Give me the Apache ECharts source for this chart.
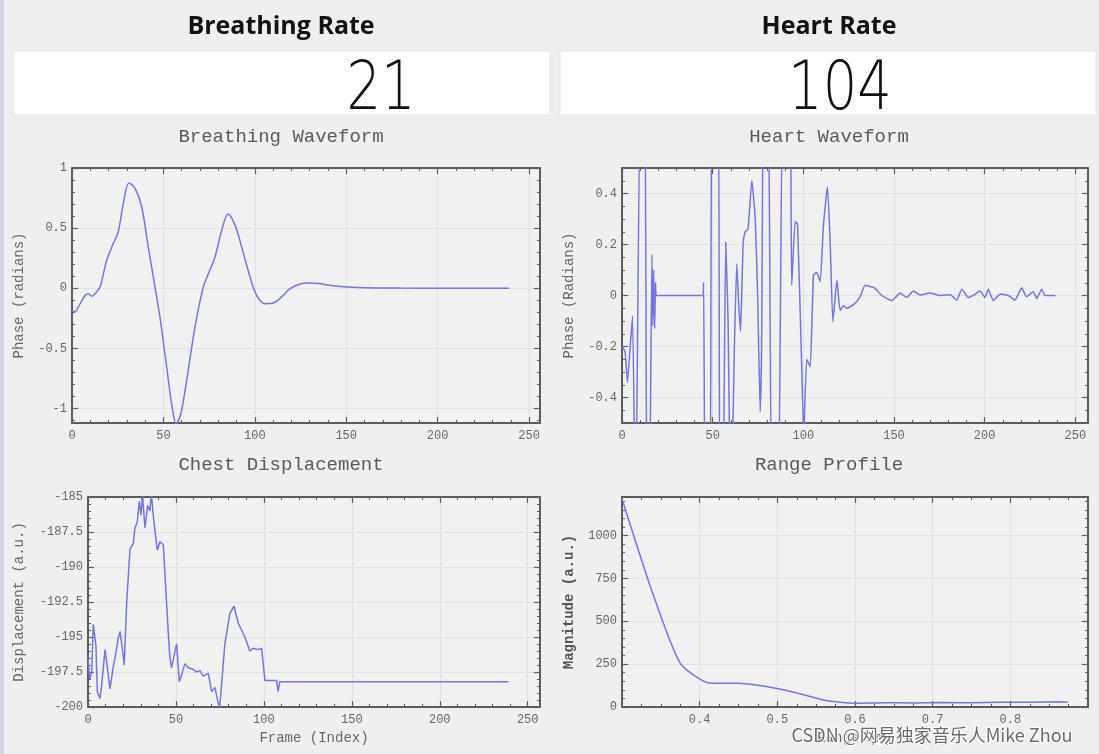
<!DOCTYPE html>
<html><head><meta charset="utf-8">
<script src="https://cdn.jsdelivr.net/npm/echarts@6/dist/echarts.min.js"></script>
<style>html,body{margin:0;padding:0;background:#efefef;overflow:hidden}#c{width:1099px;height:754px}</style>
</head><body><div id="c"></div>
<script>
// ---------------- data ----------------
const breathingRate = '21';
const heartRate = '104';

const breathFrames = [0, 1.6, 3.5, 7.1, 8.9, 10.8, 12.6, 15.3, 19, 22.6, 25.3, 28.1, 31.2, 34.5, 38.1, 41.7, 45.4, 48.1, 51.8, 54.5, 57, 59.5, 62.7, 67.3, 71.8, 74.6, 78.2, 81.9, 85.4, 89.2, 92.8, 97.4, 101, 105.6, 110, 114.7, 119.3, 125.7, 129.5, 135, 140.8, 148.7, 160, 180, 200, 220, 239];
const breathPhase  = [-0.18, -0.197, -0.155, -0.06, -0.045, -0.066, -0.045, 0.01, 0.233, 0.372, 0.47, 0.706, 0.875, 0.83, 0.678, 0.344, 0.01, -0.24, -0.656, -0.96, -1.125, -1.045, -0.767, -0.32, 0.01, 0.12, 0.26, 0.48, 0.617, 0.525, 0.344, 0.094, -0.058, -0.128, -0.122, -0.072, -0.003, 0.039, 0.044, 0.04, 0.025, 0.012, 0.005, 0.002, 0.001, 0.001, 0];

const heartFrames = [0, 1.7, 3.0, 4.5, 5.8, 7.5, 10.3, 12.5, 13.8, 15.0, 16.5, 17.0, 17.5, 18.0, 18.5, 19.0, 44.3, 45.0, 46.0, 48.5, 49.7, 53.0, 54.0, 55.5, 57.2, 58.5, 60.0, 62.0, 63.3, 64.5, 65.4, 66.8, 67.9, 69.5, 71.6, 73.5, 74.8, 76.2, 77.0, 78.2, 80.5, 82.8, 86.0, 88.9, 92.5, 93.6, 95.5, 96.8, 99.0, 100.2, 101.9, 103.8, 105.6, 107.4, 109.3, 111.1, 113.3, 114.8, 116.3, 118.5, 120.3, 122.2, 124.0, 127.7, 131.3, 134.0, 136.7, 139.3, 143.3, 148.8, 153.4, 157, 160.7, 164.4, 170, 175.5, 181, 184.6, 187.4, 191, 194.7, 197.4, 200.2, 202, 204.8, 208.5, 213, 216.7, 220.4, 223.1, 226.8, 228.7, 231.5, 233.3, 239];
const heartPhase  = [-0.2, -0.22, -0.34, -0.2, -0.08, -0.9, 0.9, 0.9, -0.9, -0.9, 0.16, -0.12, 0.1, -0.13, 0.05, 0, 0, 0.05, -0.9, -0.9, 0.9, 0.9, -0.9, -0.9, 0.21, -0.1, -0.9, -0.2, 0.125, -0.05, -0.14, 0.2, 0.25, 0.26, 0.45, 0.3, 0.0, -0.455, -0.2, 0.9, 0.9, -0.9, -0.9, 0.9, 0.9, 0.04, 0.29, 0.28, -0.25, -0.55, -0.25, -0.28, 0.08, 0.09, 0.054, 0.276, 0.426, 0.21, -0.103, 0.06, -0.058, -0.04, -0.05, -0.036, -0.005, 0.04, 0.035, 0.03, 0.0, -0.02, 0.01, -0.008, 0.018, 0.002, 0.01, 0, 0.003, -0.018, 0.025, -0.008, 0.005, 0.018, -0.008, 0.025, -0.02, 0.005, 0, -0.018, 0.03, -0.005, 0.015, -0.012, 0.025, 0, 0];

const chestFrames = [0, 1, 2.1, 3, 4.5, 5.3, 6.8, 7.8, 9.7, 10.6, 12.5, 14.4, 15.5, 17.2, 18.2, 19.7, 20.6, 22, 23.9, 25.8, 26.7, 28, 29.2, 30.1, 31, 32.4, 33.9, 35.2, 36, 37.5, 39.4, 40.9, 42.8, 45.6, 46.5, 47.5, 49, 50.4, 51.9, 53.5, 55.1, 57, 59.8, 61.5, 63.6, 65.5, 68.4, 70.3, 72.2, 74, 74.9, 77.8, 80.7, 83, 85.4, 87.3, 89.2, 92, 93.9, 96.8, 98.7, 100.6, 107.2, 108.1, 109, 239];
const chestDisp   = [-196.5, -198, -197.5, -194.1, -195.6, -198.9, -199.4, -198.4, -195.9, -195.8, -198.7, -197.1, -196.4, -195.1, -194.6, -196, -197, -192.5, -188.7, -188.3, -187.2, -186.8, -185.3, -186.3, -184.9, -187.2, -185.6, -186, -184.8, -186.8, -188.8, -188.2, -188.4, -194.6, -196.4, -197.2, -196.3, -195.5, -198.2, -197.6, -196.9, -197.2, -197.3, -197.5, -197.4, -197.8, -197.6, -198.9, -198.6, -199.7, -200, -195.5, -193.3, -192.8, -194, -194.5, -195, -196, -195.8, -195.9, -195.8, -198.1, -198.1, -198.9, -198.2, -198.2];

const rangeMeters = [0.3, 0.3375, 0.375, 0.4125, 0.45, 0.4875, 0.525, 0.5625, 0.6, 0.6375, 0.675, 0.7125, 0.75, 0.7875, 0.825, 0.8625, 0.874];
const rangeMag    = [1215, 690, 255, 140, 138, 118, 82, 38, 22, 25, 24, 26, 25, 27, 28, 30, 28];

const breathYTicks = [-1, -0.5, 0, 0.5, 1];
const heartYTicks  = [-0.4, -0.2, 0, 0.2, 0.4];
const chestYTicks  = [-200, -197.5, -195, -192.5, -190, -187.5, -185];
const rangeYTicks  = [0, 250, 500, 750, 1000];
const frameXTicks  = [0, 50, 100, 150, 200, 250];
const rangeXTicks  = [0.4, 0.5, 0.6, 0.7, 0.8];

// ---------------- helpers ----------------
const zip = (a, b) => a.map((v, i) => [v, b[i]]);
const MONO = 'Liberation Mono';
const FRAME = '#5c5c5c';
function between(min, max, step) {
  const out = []; const s = Math.ceil(min / step - 1e-9);
  for (let k = s; k * step <= max + 1e-9; k++) out.push(+(k * step).toFixed(6));
  return out;
}
const xAxes = [], yAxes = [];
function addAxes(list, dim, gi, min, max, majors, minorStep, fmt, nameOpt) {
  const minors = between(min, max, minorStep);
  const a = dim === 'x' ? 'bottom' : 'left';
  const b = dim === 'x' ? 'top' : 'right';
  const base = { type: 'value', gridIndex: gi, min: min, max: max, scale: true };
  const lbl = { show: true, customValues: majors, formatter: fmt, color: '#666', fontFamily: MONO, fontSize: 12, margin: dim === 'x' ? 7 : 5 };
  const hiddenLine = { show: false, onZero: false };
  const start = list.length;
  list.push(Object.assign({}, base, nameOpt || {}, {
    position: a,
    axisLine: { show: true, onZero: false, lineStyle: { color: FRAME, width: 2 } },
    axisTick: { show: true, inside: true, length: 6, customValues: majors, lineStyle: { color: FRAME, width: 1.2 } },
    axisLabel: lbl,
    splitLine: { show: true, lineStyle: { color: '#e0e0e0', width: 1 } }
  }));
  list.push(Object.assign({}, base, {
    position: a, axisLine: hiddenLine, axisLabel: { show: false }, splitLine: { show: false },
    axisTick: { show: true, inside: true, length: 3, customValues: minors, lineStyle: { color: FRAME } }
  }));
  list.push(Object.assign({}, base, {
    position: b, axisLine: { show: true, onZero: false, lineStyle: { color: FRAME, width: 2 } }, axisLabel: { show: false }, splitLine: { show: false },
    axisTick: { show: true, inside: true, length: 6, customValues: majors, lineStyle: { color: FRAME, width: 1.2 } }
  }));
  list.push(Object.assign({}, base, {
    position: b, axisLine: hiddenLine, axisLabel: { show: false }, splitLine: { show: false },
    axisTick: { show: true, inside: true, length: 3, customValues: minors, lineStyle: { color: FRAME } }
  }));
  return start;
}
const nameStyle = { color: '#666', fontFamily: MONO, fontSize: 14 };
const fmtNum = v => String(v);

const grids = [
  { left: 72, top: 168, width: 468, height: 255 },
  { left: 622, top: 168, width: 466, height: 255 },
  { left: 88, top: 497, width: 452, height: 210 },
  { left: 622, top: 497, width: 466, height: 210 }
];
grids.forEach(g => { g.show = true; g.backgroundColor = '#f1f1f1'; g.borderWidth = 0; });

const bx = addAxes(xAxes, 'x', 0, 0, 256, frameXTicks, 10, fmtNum);
const by = addAxes(yAxes, 'y', 0, -1.12, 1, breathYTicks, 0.1, fmtNum,
  { name: 'Phase (radians)', nameLocation: 'middle', nameRotate: 90, nameGap: 46, nameTextStyle: nameStyle });
const hx = addAxes(xAxes, 'x', 1, 0, 257, frameXTicks, 10, fmtNum);
const hy = addAxes(yAxes, 'y', 1, -0.5, 0.5, heartYTicks, 0.05, fmtNum,
  { name: 'Phase (Radians)', nameLocation: 'middle', nameRotate: 90, nameGap: 46, nameTextStyle: nameStyle });
const cx = addAxes(xAxes, 'x', 2, 0, 257, frameXTicks, 10, fmtNum,
  { name: 'Frame (Index)', nameLocation: 'middle', nameGap: 24, nameTextStyle: nameStyle });
const cy = addAxes(yAxes, 'y', 2, -200, -185, chestYTicks, 0.5, fmtNum,
  { name: 'Displacement (a.u.)', nameLocation: 'middle', nameRotate: 90, nameGap: 62, nameTextStyle: nameStyle });
const rx = addAxes(xAxes, 'x', 3, 0.3, 0.9, rangeXTicks, 0.025, fmtNum,
  { name: 'Range (m)', nameLocation: 'middle', nameGap: 24, nameTextStyle: nameStyle });
const ry = addAxes(yAxes, 'y', 3, 0, 1225, rangeYTicks, 50, fmtNum,
  { name: 'Magnitude (a.u.)', nameLocation: 'middle', nameRotate: 90, nameGap: 46, nameTextStyle: Object.assign({}, nameStyle, { color: '#555', fontWeight: 'bold' }) });

const LINE = { color: '#7474e6', width: 1.5 };
function lineSeries(xi, yi, data, smooth) {
  return { type: 'line', xAxisIndex: xi, yAxisIndex: yi, data: data, showSymbol: false, symbol: 'none',
    smooth: smooth, clip: true, lineStyle: LINE, itemStyle: { color: LINE.color }, animation: false, z: 5 };
}

const titleText = (t, x, y) => ({ type: 'text', x: x, y: y, style: { text: t, font: '19px "' + MONO + '"', fill: '#5a5a5a', textAlign: 'center', textVerticalAlign: 'middle' } });

const option = {
  backgroundColor: '#efefef',
  animation: false,
  grid: grids,
  xAxis: xAxes,
  yAxis: yAxes,
  series: [
    lineSeries(bx, by, zip(breathFrames, breathPhase), 0.35),
    lineSeries(hx, hy, zip(heartFrames, heartPhase), 0.15),
    lineSeries(cx, cy, zip(chestFrames, chestDisp), false),
    lineSeries(rx, ry, zip(rangeMeters, rangeMag), 0.2)
  ],
  graphic: [
    { type: 'rect', shape: { x: 0, y: 0, width: 4, height: 754 }, style: { fill: '#d2d6dc' } },
    { type: 'text', x: 281, y: 27, style: { text: 'Breathing Rate', font: 'bold 25px "Open Sans"', fill: '#111', textAlign: 'center', textVerticalAlign: 'middle' } },
    { type: 'text', x: 829, y: 27, style: { text: 'Heart Rate', font: 'bold 25px "Open Sans"', fill: '#111', textAlign: 'center', textVerticalAlign: 'middle' } },
    { type: 'rect', shape: { x: 13, y: 51, width: 537, height: 64 }, style: { fill: '#ffffff', stroke: '#e2e2e2', lineWidth: 1 } },
    { type: 'rect', shape: { x: 560, y: 51, width: 536, height: 64 }, style: { fill: '#ffffff', stroke: '#e2e2e2', lineWidth: 1 } },
    { type: 'text', x: 381, y: 91, scaleX: 0.8, originX: 0, style: { text: breathingRate, font: '200 68px "DejaVu Sans"', fill: '#111', textAlign: 'center', textVerticalAlign: 'middle' } },
    { type: 'text', x: 840, y: 91, scaleX: 0.8, style: { text: heartRate, font: '200 68px "DejaVu Sans"', fill: '#111', textAlign: 'center', textVerticalAlign: 'middle' } },
    titleText('Breathing Waveform', 281, 137),
    titleText('Heart Waveform', 829, 137),
    titleText('Chest Displacement', 281, 465),
    titleText('Range Profile', 829, 465),
    { type: 'text', x: 932, y: 735, z: 100, style: { text: 'CSDN @网易独家音乐人Mike Zhou', font: '18px "Noto Sans CJK SC"', fill: '#6a6a6a', stroke: '#ffffff', lineWidth: 2, textAlign: 'center', textVerticalAlign: 'middle' } }
  ]
};
const chart = echarts.init(document.getElementById('c'), null, { renderer: 'canvas' });
chart.setOption(option);
</script>
</body></html>
